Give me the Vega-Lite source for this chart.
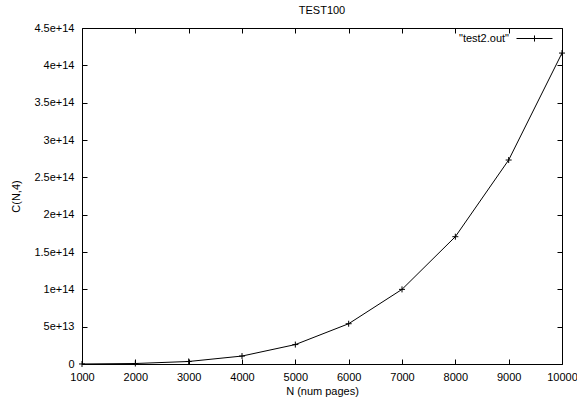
{
  "$schema": "https://vega.github.io/schema/vega-lite/v6.json",
  "width": 480,
  "height": 336,
  "autosize": {"type": "none"},
  "padding": {"left": 82, "top": 28, "right": 15, "bottom": 36},
  "background": "white",
  "title": {"text": "TEST100", "fontSize": 11, "fontWeight": "normal", "font": "Liberation Sans", "color": "black", "offset": 4},
  "config": {
    "view": {"stroke": "black", "strokeWidth": 1},
    "axis": {"labelFont": "Liberation Sans", "labelFontSize": 11, "labelColor": "black", "titleFont": "Liberation Sans", "titleFontSize": 11, "titleFontWeight": "normal", "titleColor": "black", "grid": false, "domain": false, "tickColor": "black", "tickSize": -5, "tickWidth": 1}
  },
  "data": {"values": [
    {"N": 1000, "C": 41417124750},
    {"N": 2000, "C": 664668499500},
    {"N": 3000, "C": 3366003373500},
    {"N": 4000, "C": 10639958250000},
    {"N": 5000, "C": 26015637500000},
    {"N": 6000, "C": 53946034000000},
    {"N": 7000, "C": 99930093000000},
    {"N": 8000, "C": 170500000000000},
    {"N": 9000, "C": 273190000000000},
    {"N": 10000, "C": 416416000000000}
  ]},
  "layer": [
    {
      "mark": {"type": "line", "strokeWidth": 1},
      "encoding": {
        "x": {"field": "N", "type": "quantitative", "scale": {"domain": [1000, 10000], "nice": false, "zero": false},
          "axis": {"orient": "bottom", "values": [1000,2000,3000,4000,5000,6000,7000,8000,9000,10000], "title": "N (num pages)", "labelPadding": 12, "titleX": 240, "titleY": 27, "titleBaseline": "middle", "labelFlush": false, "format": "d"}},
        "y": {"field": "C", "type": "quantitative", "scale": {"domain": [0, 450000000000000], "nice": false},
          "axis": {"orient": "left", "values": [0,50000000000000,100000000000000,150000000000000,200000000000000,250000000000000,300000000000000,350000000000000,400000000000000,450000000000000], "title": "C(N,4)", "labelPadding": 13, "titleX": -66, "titleY": 168, "titleAngle": -90, "titleBaseline": "middle", "labelFlush": false, "labelExpr": "datum.value == 0 ? '0' : format(datum.value, '.2~e')"}},
        "color": {"datum": "\"test2.out\"", "type": "nominal", "scale": {"range": ["black"]},
          "legend": {"title": null, "orient": "none", "legendX": 434, "legendY": -8, "padding": 0, "symbolType": "M-1,0H1M0,-0.17V0.17", "symbolSize": 1296, "symbolStrokeWidth": 1, "symbolStrokeColor": "black", "symbolFillColor": "transparent", "labelAlign": "right", "labelOffset": -44, "labelFont": "Liberation Sans", "labelFontSize": 11, "labelColor": "black"}}
      }
    },
    {
      "mark": {"type": "point", "shape": "M-1,0H1M0,-1V1", "size": 36, "stroke": "black", "strokeWidth": 1, "filled": false, "opacity": 1},
      "encoding": {
        "x": {"field": "N", "type": "quantitative", "axis": {"orient": "top", "values": [1000,2000,3000,4000,5000,6000,7000,8000,9000,10000], "labels": false, "title": null}},
        "y": {"field": "C", "type": "quantitative", "axis": {"orient": "right", "values": [0,50000000000000,100000000000000,150000000000000,200000000000000,250000000000000,300000000000000,350000000000000,400000000000000,450000000000000], "labels": false, "title": null}}
      }
    }
  ]
}
